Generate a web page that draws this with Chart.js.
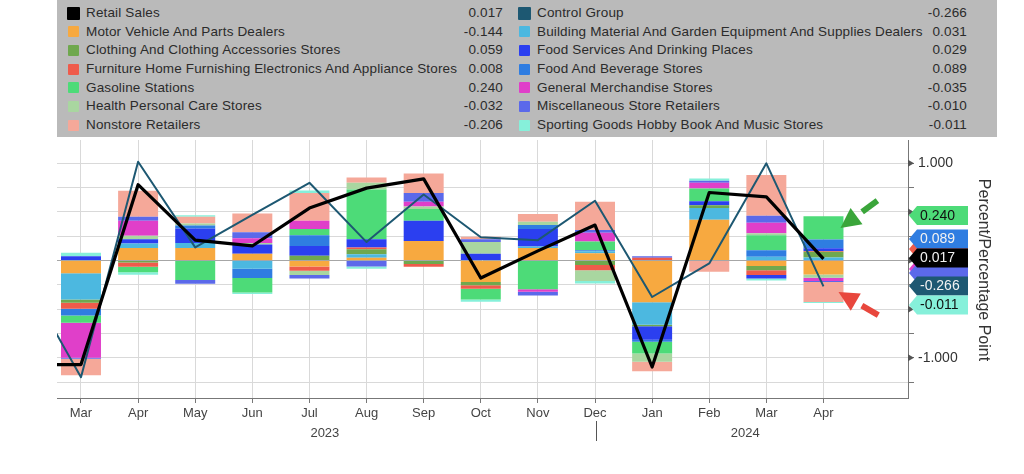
<!DOCTYPE html>
<html><head><meta charset="utf-8">
<script src="https://cdn.jsdelivr.net/npm/chart.js@4.4.1/dist/chart.umd.min.js"></script>
<style>
html,body{margin:0;padding:0;background:#fff;width:1024px;height:474px;overflow:hidden;font-family:"Liberation Sans",Arial,sans-serif}
#c{position:absolute;left:0;top:0}
#legend{position:absolute;left:57px;top:0;width:940px;height:137px;background:#bababa;color:#2b2b2b;font-size:13.5px;letter-spacing:0.15px}
.item{position:absolute;height:18px;line-height:18px;white-space:nowrap}
.sw{position:absolute;border-radius:1px}
.val{position:absolute;width:100px;text-align:right;top:0}
</style></head><body>
<canvas id="c" width="1024" height="474"></canvas>
<div id="legend"></div>
<script>
// ---- categories ----
const months = ['Mar','Apr','May','Jun','Jul','Aug','Sep','Oct','Nov','Dec','Jan','Feb','Mar','Apr'];
const yearLabels = ['2023','2024'];
const yTickValues = [-1.25,-1.0,-0.75,-0.5,-0.25,0,0.25,0.5,0.75,1.0];

// ---- lines (first value = Feb 2023, just off the left edge) ----
const retailSales  = [-1.07, -1.07, 0.78, 0.21, 0.15, 0.54, 0.745, 0.84, -0.18, 0.10, 0.365, -1.095, 0.70, 0.655, 0.017];
const controlGroup = [-0.16, -1.20, 1.016, 0.135, 0.47, 0.80, 0.19, 0.68, 0.24, 0.21, 0.615, -0.375, -0.03, 1.00, -0.266];

// ---- stacked contributions (Mar 2023 .. Apr 2024) ----
const motorVehicle  = [-0.13, 0.13, 0.13, 0.07, -0.06, 0.03, 0.20, -0.22, 0.13, 0.075, -0.43, 0.42, -0.055, -0.144];
const buildingMat   = [-0.27, 0.045, 0.05, -0.085, 0, 0.035, 0, 0, 0.015, 0.02, -0.23, 0.12, 0.04, 0.031];
const clothing      = [-0.035, -0.02, 0, 0, 0.05, 0.05, -0.035, -0.035, 0, -0.045, -0.015, 0.03, -0.045, 0.059];
const furniture     = [-0.06, -0.045, 0, 0, -0.045, 0.02, -0.03, -0.035, 0, -0.055, 0.03, 0, -0.05, 0.008];
const foodServices  = [0.045, 0.045, 0.15, 0.095, 0.10, 0.085, 0.21, 0.07, 0.18, 0, -0.14, 0.04, -0.035, 0.029];
const foodBeverage  = [-0.07, 0, 0.03, -0.095, 0.11, 0, 0, 0, 0.04, 0.01, -0.02, 0, 0.065, 0.089];
const gasoline      = [-0.075, -0.055, -0.20, -0.15, 0.065, 0.51, 0.12, -0.11, -0.295, 0.09, -0.12, 0.13, 0.155, 0.240];
const healthCare    = [0, 0.035, 0.02, 0.015, -0.045, 0.07, 0.025, 0.12, 0.035, -0.11, -0.085, 0, 0.02, -0.032];
const generalMerch  = [-0.36, 0.155, 0, 0.05, 0.085, 0, 0.05, 0, -0.025, 0.09, 0, 0.06, 0.11, -0.035];
const miscRetail    = [-0.01, 0.04, -0.04, 0.06, -0.035, -0.06, 0.09, 0.03, -0.04, 0.03, 0.015, 0.02, 0.07, -0.010];
const nonstore      = [-0.17, 0.267, 0.07, 0.195, 0.285, 0.055, 0.20, 0.025, 0.08, 0.29, -0.10, -0.115, 0.42, -0.206];
const sportingGoods = [0.035, -0.025, 0.015, -0.015, 0.025, -0.025, 0, -0.025, 0, -0.025, 0, 0.025, -0.02, -0.011];

const S = {
  retail:   {name:'Retail Sales', data:retailSales, color:'#000000', line:true},
  control:  {name:'Control Group', data:controlGroup, color:'#1d5872', line:true},
  motor:    {name:'Motor Vehicle And Parts Dealers', data:motorVehicle, color:'#f7a940'},
  building: {name:'Building Material And Garden Equipment And Supplies Dealers', data:buildingMat, color:'#4cb8e0'},
  clothing: {name:'Clothing And Clothing Accessories Stores', data:clothing, color:'#6fa84e'},
  furniture:{name:'Furniture Home Furnishing Electronics And Appliance Stores', data:furniture, color:'#ef5b4b'},
  foodServ: {name:'Food Services And Drinking Places', data:foodServices, color:'#2b3ff0'},
  foodBev:  {name:'Food And Beverage Stores', data:foodBeverage, color:'#2f7de1'},
  gas:      {name:'Gasoline Stations', data:gasoline, color:'#4ddb78'},
  health:   {name:'Health Personal Care Stores', data:healthCare, color:'#a9d6a0'},
  general:  {name:'General Merchandise Stores', data:generalMerch, color:'#e03fc9'},
  misc:     {name:'Miscellaneous Store Retailers', data:miscRetail, color:'#5b69ea'},
  nonstore: {name:'Nonstore Retailers', data:nonstore, color:'#f5a899'},
  sporting: {name:'Sporting Goods Hobby Book And Music Stores', data:sportingGoods, color:'#86f0da'}
};
const stackOrder = ['motor','building','clothing','furniture','foodServ','foodBev','gas','health','general','misc','nonstore','sporting'];
const legendLeft  = ['retail','motor','clothing','furniture','gas','health','nonstore'];
const legendRight = ['control','building','foodServ','foodBev','general','misc','sporting'];
const last = k => S[k].data[S[k].data.length-1];

// ---- HTML legend ----
const lg = document.getElementById('legend');
function addCol(keys, swX, txtX, valRight){
  keys.forEach((k,i)=>{
    const s = S[k];
    const row = document.createElement('div');
    row.className='item'; row.style.left='0px'; row.style.width='940px';
    row.style.top = (4 + i*18.67)+'px';
    const sw = document.createElement('div'); sw.className='sw';
    const sz = s.line ? 13 : 11;
    sw.style.width=sz+'px'; sw.style.height=sz+'px';
    sw.style.left=(swX - (s.line?1:0))+'px'; sw.style.top=((18-sz)/2)+'px';
    sw.style.background=s.color;
    const t = document.createElement('span'); t.style.position='absolute'; t.style.left=txtX+'px'; t.textContent=s.name;
    const v = document.createElement('div'); v.className='val'; v.style.left=(valRight-100)+'px'; v.textContent=last(k).toFixed(3);
    row.appendChild(sw); row.appendChild(t); row.appendChild(v); lg.appendChild(row);
  });
}
addCol(legendLeft, 11, 29, 446);
addCol(legendRight, 462, 480, 910);

// ---- overlay plugin: year labels, axis title, value tags, arrows ----
const FONT = '"Liberation Sans", Arial, sans-serif';
const tagRows = [ // drawn in this order (later on top); hidden ones only peek out
  {k:'furniture', y:249, hidden:true}, {k:'general', y:269, hidden:true}, {k:'misc', y:273, hidden:true},
  {k:'gas', y:215.5}, {k:'foodBev', y:239}, {k:'control', y:286}, {k:'sporting', y:305}, {k:'retail', y:258}
];
const darkText = {gas:true, sporting:true};
const overlay = {
  id:'overlay',
  afterDraw(chart){
    const c = chart.ctx, xs = chart.scales.x, ys = chart.scales.y, ca = chart.chartArea;
    c.save();
    c.fillStyle = '#555';
    [1,0.5,0,-0.5,-1].forEach(v=>{
      const y = ys.getPixelForValue(v);
      c.beginPath(); c.moveTo(ca.right, y-3.5); c.lineTo(ca.right+6, y); c.lineTo(ca.right, y+3.5); c.closePath(); c.fill();
    });
    c.fillStyle = '#444'; c.font = '13px '+FONT; c.textAlign='center'; c.textBaseline='middle';
    const yearPos = [4.27, 11.63];
    yearLabels.forEach((t,i)=> c.fillText(t, xs.getPixelForValue(yearPos[i]), 433));
    const sx = Math.round(xs.getPixelForValue(9)) + 1.5;
    c.strokeStyle='#555'; c.lineWidth=1; c.beginPath(); c.moveTo(sx, 421); c.lineTo(sx, 441); c.stroke();
    c.save(); c.translate(983, 270); c.rotate(Math.PI/2);
    c.fillStyle='#333'; c.font='16px '+FONT; c.textAlign='center'; c.textBaseline='middle';
    c.fillText('Percent/Percentage Point', 0, 0); c.restore();
    tagRows.forEach(r=>{
      const s = S[r.k], y = r.y, h = 9.5;
      c.fillStyle = s.color;
      c.beginPath(); c.moveTo(909, y); c.lineTo(917, y-h); c.lineTo(968, y-h); c.lineTo(968, y+h); c.lineTo(917, y+h); c.closePath(); c.fill();
      if (r.hidden) return;
      c.fillStyle = darkText[r.k] ? '#111' : '#f2f2f2';
      c.font = '14px '+FONT; c.textAlign='left'; c.textBaseline='middle';
      c.fillText(last(r.k).toFixed(3), 920, y+0.5);
    });
    const bx = xs.getPixelForValue(13);
    function arrow(tx, ty, dx, dy, col){
      const L = Math.hypot(dx,dy), ux = dx/L, uy = dy/L, px = -uy, py = ux;
      c.fillStyle = col; c.strokeStyle = col;
      const bxx = tx - ux*20, byy = ty - uy*20;
      c.beginPath(); c.moveTo(tx,ty); c.lineTo(bxx+px*10, byy+py*10); c.lineTo(bxx-px*10, byy-py*10); c.closePath(); c.fill();
      c.lineWidth = 6; c.lineCap='butt';
      c.beginPath(); c.moveTo(tx-ux*27, ty-uy*27); c.lineTo(tx-ux*46, ty-uy*46); c.stroke();
    }
    arrow(bx+17, ys.getPixelForValue(0.334), -39, 29, '#3aa53a');
    arrow(bx+15, ys.getPixelForValue(-0.324), -45, -26, '#e8473d');
    c.restore();
  }
};

const datasets = [
  {type:'line', label:S.retail.name, data:retailSales.map((v,i)=>({x:i-1,y:v})), borderColor:'#000', borderWidth:3.2,
   pointRadius:0, tension:0, stack:'rs', order:0, borderJoinStyle:'round'},
  {type:'line', label:S.control.name, data:controlGroup.map((v,i)=>({x:i-1,y:v})), borderColor:S.control.color, borderWidth:2,
   pointRadius:0, tension:0, stack:'cg', order:0, borderJoinStyle:'round'},
  ...stackOrder.map(k=>({type:'bar', label:S[k].name, data:S[k].data.map((v,i)=>({x:i,y:v})), backgroundColor:S[k].color,
   stack:'bars', order:1, barPercentage:0.7, categoryPercentage:1, borderWidth:0}))
];

new Chart(document.getElementById('c'), {
  type:'bar',
  data:{datasets},
  plugins:[overlay],
  options:{
    responsive:false, animation:false, devicePixelRatio:1,
    layout:{padding:{left:57, right:0, top:140, bottom:0}},
    plugins:{legend:{display:false}, tooltip:{enabled:false}},
    scales:{
      x:{type:'linear', min:-0.42, max:14.48, offset:false,
        afterBuildTicks:s=>{ s.ticks = months.map((m,i)=>({value:i})); },
        afterFit:s=>{ s.height = 76; },
        grid:{color:'#d9d9d9', tickColor:'#777', tickLength:5, offset:false},
        border:{color:'#777'},
        ticks:{callback:v=>months[Math.round(v)], autoSkip:false, maxRotation:0, padding:3, color:'#444', font:{family:FONT, size:13}}
      },
      y:{position:'right', stacked:true, min:-1.414, max:1.24,
        afterBuildTicks:s=>{ s.ticks = yTickValues.map(v=>({value:v})); },
        afterFit:s=>{ s.width = 116; },
        grid:{color:c=>(c.tick && c.tick.value===0) ? '#a6a6a6' : '#d9d9d9', tickColor:'#777', tickLength:6},
        border:{color:'#777'},
        ticks:{callback:v=>(Math.abs(v*2-Math.round(v*2))<1e-9) ? v.toFixed(3) : '', padding:4, color:'#333', font:{family:FONT, size:14}}
      }
    }
  }
});
</script>
</body></html>
